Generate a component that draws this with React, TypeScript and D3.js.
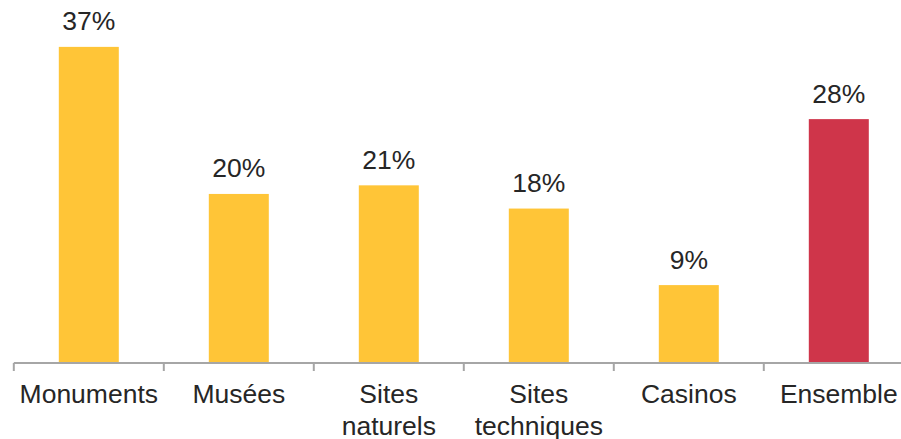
import React from "react";
import * as d3 from "d3";

const categories = ["Monuments", "Musées", "Sites naturels", "Sites techniques", "Casinos", "Ensemble"];
const categoryLines = [["Monuments"], ["Musées"], ["Sites", "naturels"], ["Sites", "techniques"], ["Casinos"], ["Ensemble"]];
const values = [36.7, 19.6, 20.6, 17.9, 9.0, 28.3];
const barColors = ["#FFC537", "#FFC537", "#FFC537", "#FFC537", "#FFC537", "#CF354A"];

const W = 901;
const H = 439;

export default function App() {
  const x = d3.scaleBand<string>().domain(categories).range([13.8, 913.8]).paddingInner(0.6).paddingOuter(0.3);
  const step = x.step();
  const baseY = 362.5;
  const y = d3.scaleLinear().domain([0, 40]).range([baseY, baseY - 40 * 8.6]);
  const fmt = (v: number) => d3.format(".0f")(v) + "%";
  const font = "'Liberation Sans', Arial, sans-serif";
  const tickXs = categories.map((c) => (x(c) as number) - x.paddingOuter() * step);
  return (
    <svg width={W} height={H} style={{ position: "absolute", left: 0, top: 0, background: "#fff" }} fontFamily={font}>
      {categories.map((c, i) => (
        <rect key={c} x={x(c)} y={y(values[i])} width={x.bandwidth()} height={baseY - y(values[i])} fill={barColors[i]} />
      ))}
      <line x1={13.8} x2={913.8} y1={363} y2={363} stroke="#A6A6A6" strokeWidth={2} />
      {tickXs.map((tx, i) => (
        <line key={i} x1={tx} x2={tx} y1={363} y2={371} stroke="#A6A6A6" strokeWidth={2} />
      ))}
      {categories.map((c, i) => (
        <text key={c} x={(x(c) as number) + x.bandwidth() / 2} y={y(values[i]) - 16.5} textAnchor="middle" fontSize={26.5} fill="#262626">
          {fmt(values[i])}
        </text>
      ))}
      {categories.map((c, i) => (
        <text key={c} x={(x(c) as number) + x.bandwidth() / 2} y={403} textAnchor="middle" fontSize={26.5} fill="#262626">
          {categoryLines[i].map((ln, j) => (
            <tspan key={j} x={(x(c) as number) + x.bandwidth() / 2} dy={j === 0 ? 0 : 31.5}>
              {ln}
            </tspan>
          ))}
        </text>
      ))}
    </svg>
  );
}
